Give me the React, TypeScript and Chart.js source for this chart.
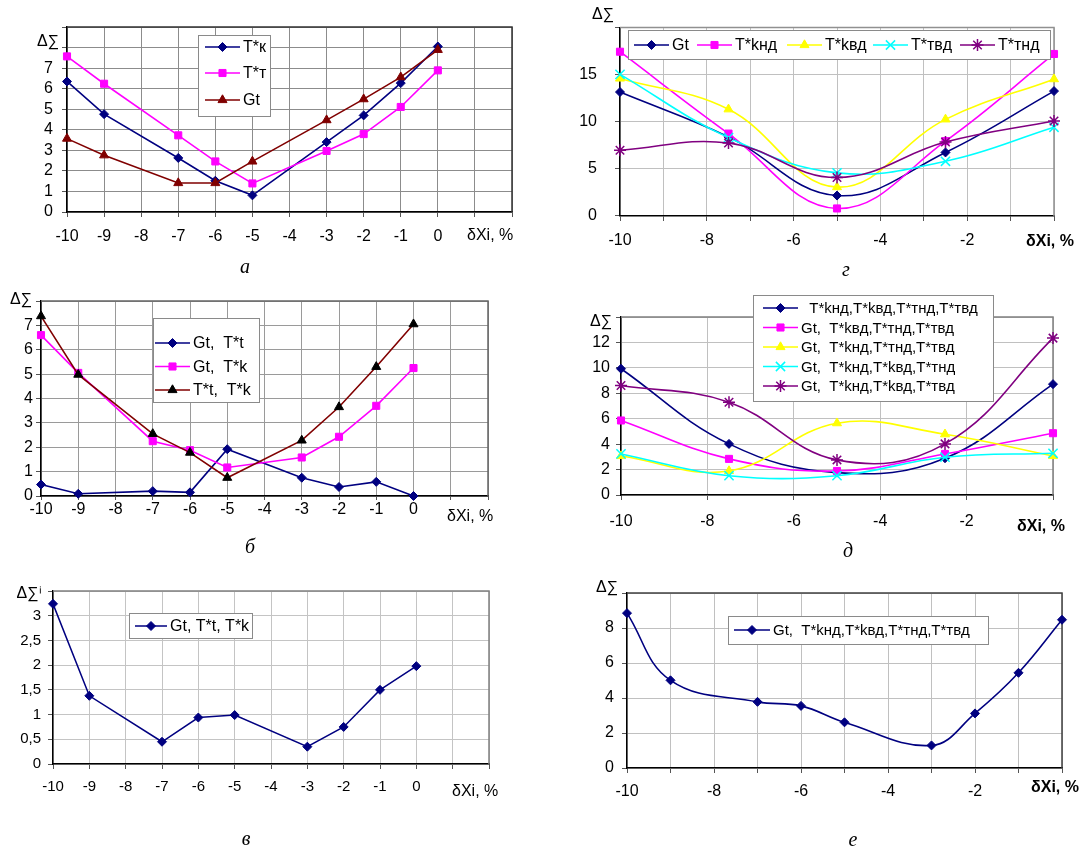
import React, { useEffect, useRef } from 'react';
import { Chart, registerables } from 'chart.js';

Chart.register(...registerables);

const W = 1088;
const H = 847;
const FONT = '"Liberation Sans", Arial, sans-serif';

// ---------- Panel а ----------
const xA = [-10, -9, -7, -6, -5, -3, -2, -1, 0];
const aTk = [6.35, 4.76, 2.63, 1.52, 0.81, 3.4, 4.7, 6.27, 8.05];
const aTt = [7.57, 6.24, 3.73, 2.46, 1.39, 2.97, 3.79, 5.11, 6.89];
const aGt = [3.57, 2.76, 1.41, 1.41, 2.46, 4.47, 5.49, 6.56, 7.89];
const labelsA = ['T*к', 'T*т', 'Gt'];

// ---------- Panel б ----------
const xB = [-10, -9, -7, -6, -5, -3, -2, -1, 0];
const bGtTt = [0.47, 0.09, 0.2, 0.15, 1.92, 0.75, 0.37, 0.58, 0.0];
const bGtTk = [6.6, 5.05, 2.25, 1.88, 1.17, 1.58, 2.43, 3.7, 5.25];
const bTtTk = [7.38, 4.98, 2.55, 1.78, 0.75, 2.28, 3.65, 5.3, 7.05];
const labelsB = ['Gt,  T*t', 'Gt,  T*k', 'T*t,  T*k'];

// ---------- Panel в ----------
const xV = [-10, -9, -7, -6, -5, -3, -2, -1, 0];
const vVals = [3.24, 1.38, 0.45, 0.94, 0.99, 0.35, 0.75, 1.5, 1.98];
const labelsV = ['Gt, T*t, T*k'];

// ---------- Panel г ----------
const xG = [-10, -7.5, -5, -2.5, 0];
const gGt = [13.16, 8.4, 2.17, 6.75, 13.26];
const gTknd = [17.44, 8.75, 0.8, 7.95, 17.2];
const gTkvd = [14.6, 11.33, 3.07, 10.26, 14.53];
const gTtvd = [15.03, 8.32, 4.58, 5.81, 9.42];
const gTtnd = [6.98, 7.75, 4.08, 7.85, 10.09];
const labelsG = ['Gt', 'T*kнд', 'T*kвд', 'T*твд', 'T*тнд'];

// ---------- Panel д ----------
const xD = [-10, -7.5, -5, -2.5, 0];
const d1 = [9.93, 4.02, 1.76, 2.89, 8.72];
const d2 = [5.86, 2.84, 1.89, 3.23, 4.86];
const d3 = [3.07, 1.89, 5.65, 4.78, 3.07];
const d4 = [3.23, 1.52, 1.52, 2.97, 3.28];
const d5 = [8.61, 7.3, 2.76, 4.02, 12.34];
const labelsD = [
  '  T*kнд,T*kвд,T*тнд,T*твд',
  'Gt,  T*kвд,T*тнд,T*твд',
  'Gt,  T*kнд,T*тнд,T*твд',
  'Gt,  T*kнд,T*kвд,T*тнд',
  'Gt,  T*kнд,T*kвд,T*твд',
];

// ---------- Panel е ----------
const xE = [-10, -9, -7, -6, -5, -3, -2, -1, 0];
const eVals = [8.85, 5.01, 3.78, 3.55, 2.61, 1.29, 3.12, 5.44, 8.47];
const labelsE = ['Gt,  T*kнд,T*kвд,T*тнд,T*твд'];

const NAVY = '#000080';
const MAGENTA = '#ff00ff';
const MAROON = '#800000';
const BLACK = '#000000';
const YELLOW = '#ffff00';
const CYAN = '#00ffff';
const PURPLE = '#800080';

type Series = { label: string; ys: number[]; color: string; mColor?: string; style: string; r: number };
type Panel = {
  xs: number[];
  series: Series[];
  plot: [number, number, number, number];
  xMin: number; xMax: number; xStep: number; xLabel: (v: number) => string;
  yMin: number; yMax: number; yStep: number; yLabel: (v: number) => string;
  tension: number; tickFont: number; lineW: number;
  xPad: number; yPad: number; tickLen: number;
  grid: string; frame: string;
  legend: { box: number[]; xs: number[]; ys: number[]; lineLen: number; font: number };
  yTitle: { text: string; x: number; y: number };
  xTitle: { x: number; y: number; bold: boolean };
  caption: { text: string; x: number; y: number };
};

const intLabelLE0 = (v: number) => (v <= 0 ? String(v) : '');
const evenNeg = (v: number) => (v < 0 && Math.abs(v % 2) < 1e-9 ? String(v) : '');

const panels: Panel[] = [
  {
    xs: xA,
    series: [
      { label: labelsA[0], ys: aTk, color: NAVY, style: 'rectRot', r: 4.5 },
      { label: labelsA[1], ys: aTt, color: MAGENTA, style: 'rect', r: 5 },
      { label: labelsA[2], ys: aGt, color: MAROON, style: 'triangle', r: 5.2 },
    ],
    plot: [67, 27, 512, 212],
    xMin: -10, xMax: 2, xStep: 1, xLabel: intLabelLE0,
    yMin: 0, yMax: 9, yStep: 1, yLabel: (v) => (v <= 7 ? String(v) : ''),
    tension: 0, tickFont: 16, lineW: 1.6,
    xPad: 10, yPad: 9, tickLen: 5,
    grid: '#8c8c8c', frame: '#333333',
    legend: { box: [198, 35, 270, 116], xs: [205, 205, 205], ys: [47, 73, 100], lineLen: 35, font: 16 },
    yTitle: { text: 'Δ∑', x: 48, y: 42 },
    xTitle: { x: 467, y: 236, bold: false },
    caption: { text: 'а', x: 245, y: 268 },
  },
  {
    xs: xB,
    series: [
      { label: labelsB[0], ys: bGtTt, color: NAVY, style: 'rectRot', r: 4.5 },
      { label: labelsB[1], ys: bGtTk, color: MAGENTA, style: 'rect', r: 5 },
      { label: labelsB[2], ys: bTtTk, color: MAROON, mColor: BLACK, style: 'triangle', r: 5.2 },
    ],
    plot: [41, 301, 488, 496],
    xMin: -10, xMax: 2, xStep: 1, xLabel: intLabelLE0,
    yMin: 0, yMax: 8, yStep: 1, yLabel: (v) => (v <= 7 ? String(v) : ''),
    tension: 0, tickFont: 16, lineW: 1.6,
    xPad: 0, yPad: 3, tickLen: 4,
    grid: '#9a9a9a', frame: '#666666',
    legend: { box: [153, 318, 259, 402], xs: [155, 155, 155], ys: [343, 366.5, 390], lineLen: 35, font: 16 },
    yTitle: { text: 'Δ∑', x: 21, y: 300 },
    xTitle: { x: 447, y: 517, bold: false },
    caption: { text: 'б', x: 250, y: 548 },
  },
  {
    xs: xV,
    series: [{ label: labelsV[0], ys: vVals, color: NAVY, style: 'rectRot', r: 4.5 }],
    plot: [53, 591, 489, 764],
    xMin: -10, xMax: 2, xStep: 1, xLabel: intLabelLE0,
    yMin: 0, yMax: 3.5, yStep: 0.5, yLabel: (v) => (v <= 3.01 ? String(v).replace('.', ',') : ''),
    tension: 0, tickFont: 15, lineW: 1.5,
    xPad: 9, yPad: 7, tickLen: 5,
    grid: '#c4c4c4', frame: '#808080',
    legend: { box: [129, 613, 252, 638], xs: [135], ys: [626], lineLen: 32, font: 16 },
    yTitle: { text: 'Δ∑ⁱ', x: 29, y: 594 },
    xTitle: { x: 452, y: 792, bold: false },
    caption: { text: 'в', x: 246, y: 840 },
  },
  {
    xs: xG,
    series: [
      { label: labelsG[0], ys: gGt, color: NAVY, style: 'rectRot', r: 4.5 },
      { label: labelsG[1], ys: gTknd, color: MAGENTA, style: 'rect', r: 5 },
      { label: labelsG[2], ys: gTkvd, color: YELLOW, style: 'triangle', r: 5.2 },
      { label: labelsG[3], ys: gTtvd, color: CYAN, style: 'crossRot', r: 6.5 },
      { label: labelsG[4], ys: gTtnd, color: PURPLE, style: 'star', r: 6 },
    ],
    plot: [620, 18, 1054, 216],
    xMin: -10, xMax: 0, xStep: 1, xLabel: evenNeg,
    yMin: 0, yMax: 20, yStep: 5, yLabel: (v) => (v <= 15 ? String(v) : ''),
    tension: 0.4, tickFont: 16, lineW: 1.6,
    xPad: 10, yPad: 18, tickLen: 5,
    grid: '#c0c0c0', frame: '#909090',
    legend: { box: [628, 30, 1050, 59], xs: [634, 697, 787, 873, 960], ys: [45, 45, 45, 45, 45], lineLen: 35, font: 16 },
    yTitle: { text: 'Δ∑', x: 603, y: 15 },
    xTitle: { x: 1026, y: 242, bold: true },
    caption: { text: 'г', x: 846, y: 271 },
  },
  {
    xs: xD,
    series: [
      { label: labelsD[0], ys: d1, color: NAVY, style: 'rectRot', r: 4.5 },
      { label: labelsD[1], ys: d2, color: MAGENTA, style: 'rect', r: 5 },
      { label: labelsD[2], ys: d3, color: YELLOW, style: 'triangle', r: 5.2 },
      { label: labelsD[3], ys: d4, color: CYAN, style: 'crossRot', r: 6.5 },
      { label: labelsD[4], ys: d5, color: PURPLE, style: 'star', r: 6 },
    ],
    plot: [621, 317, 1053, 495],
    xMin: -10, xMax: 0, xStep: 2, xLabel: (v) => (v < 0 ? String(v) : ''),
    yMin: 0, yMax: 14, yStep: 2, yLabel: (v) => (v <= 12 ? String(v) : ''),
    tension: 0.4, tickFont: 16, lineW: 1.6,
    xPad: 12, yPad: 6, tickLen: 5,
    grid: '#c0c0c0', frame: '#808080',
    legend: { box: [753, 295, 993, 401], xs: [763, 763, 763, 763, 763], ys: [308, 327.5, 347, 366.5, 386], lineLen: 35, font: 15 },
    yTitle: { text: 'Δ∑', x: 601, y: 322 },
    xTitle: { x: 1017, y: 527, bold: true },
    caption: { text: 'д', x: 848, y: 552 },
  },
  {
    xs: xE,
    series: [{ label: labelsE[0], ys: eVals, color: NAVY, style: 'rectRot', r: 4.5 }],
    plot: [627, 593, 1062, 768],
    xMin: -10, xMax: 0, xStep: 1, xLabel: evenNeg,
    yMin: 0, yMax: 10, yStep: 2, yLabel: (v) => (v <= 8 ? String(v) : ''),
    tension: 0.4, tickFont: 16, lineW: 1.6,
    xPad: 9, yPad: 8, tickLen: 5,
    grid: '#c0c0c0', frame: '#404040',
    legend: { box: [728, 616, 988, 644], xs: [734], ys: [630], lineLen: 36, font: 15 },
    yTitle: { text: 'Δ∑', x: 607, y: 588 },
    xTitle: { x: 1031, y: 788, bold: true },
    caption: { text: 'е', x: 853, y: 841 },
  },
];

function drawMarker(ctx: CanvasRenderingContext2D, style: string, x: number, y: number, r: number, color: string) {
  ctx.save();
  ctx.fillStyle = color;
  ctx.strokeStyle = color;
  ctx.lineWidth = 1;
  ctx.beginPath();
  if (style === 'rectRot') {
    ctx.moveTo(x - r, y);
    ctx.lineTo(x, y - r);
    ctx.lineTo(x + r, y);
    ctx.lineTo(x, y + r);
    ctx.closePath();
    ctx.fill();
    ctx.stroke();
  } else if (style === 'rect') {
    const s = r * Math.SQRT1_2;
    ctx.rect(x - s, y - s, 2 * s, 2 * s);
    ctx.fill();
    ctx.stroke();
  } else if (style === 'triangle') {
    ctx.moveTo(x, y - r);
    ctx.lineTo(x + 0.866 * r, y + 0.5 * r);
    ctx.lineTo(x - 0.866 * r, y + 0.5 * r);
    ctx.closePath();
    ctx.fill();
    ctx.stroke();
  } else if (style === 'crossRot' || style === 'star') {
    ctx.lineWidth = 1.5;
    const o = r * Math.SQRT1_2;
    ctx.moveTo(x - o, y - o);
    ctx.lineTo(x + o, y + o);
    ctx.moveTo(x - o, y + o);
    ctx.lineTo(x + o, y - o);
    if (style === 'star') {
      ctx.moveTo(x, y - r);
      ctx.lineTo(x, y + r);
      ctx.moveTo(x - r, y);
      ctx.lineTo(x + r, y);
    }
    ctx.stroke();
  }
  ctx.restore();
}

function decoPlugin(p: Panel) {
  return {
    id: 'deco',
    beforeDatasetsDraw(chart: any) {
      const { ctx, chartArea: ca } = chart;
      ctx.save();
      ctx.strokeStyle = p.frame;
      ctx.lineWidth = 1.5;
      ctx.beginPath();
      ctx.moveTo(ca.left, ca.top);
      ctx.lineTo(ca.right, ca.top);
      ctx.lineTo(ca.right, ca.bottom);
      ctx.stroke();
      ctx.restore();
    },
    afterDraw(chart: any) {
      const ctx: CanvasRenderingContext2D = chart.ctx;
      ctx.save();
      // legend
      const lg = p.legend;
      const [bl, bt, br, bb] = lg.box;
      ctx.fillStyle = '#ffffff';
      ctx.fillRect(bl, bt, br - bl, bb - bt);
      ctx.strokeStyle = '#8a8a8a';
      ctx.lineWidth = 1;
      ctx.strokeRect(bl + 0.5, bt + 0.5, br - bl, bb - bt);
      const ds = chart.data.datasets;
      ds.forEach((d: any, i: number) => {
        const s = p.series[i];
        const x0 = lg.xs[i];
        const y0 = lg.ys[i];
        ctx.strokeStyle = s.color;
        ctx.lineWidth = p.lineW;
        ctx.beginPath();
        ctx.moveTo(x0, y0);
        ctx.lineTo(x0 + lg.lineLen, y0);
        ctx.stroke();
        drawMarker(ctx, s.style, x0 + lg.lineLen / 2, y0, s.r, s.mColor || s.color);
        ctx.fillStyle = '#000';
        ctx.font = `${lg.font}px ${FONT}`;
        ctx.textAlign = 'left';
        ctx.textBaseline = 'middle';
        ctx.fillText(d.label, x0 + lg.lineLen + 3, y0 + 1);
      });
      // y title
      ctx.fillStyle = '#000';
      ctx.font = `16px ${FONT}`;
      ctx.textAlign = 'center';
      ctx.textBaseline = 'middle';
      ctx.fillText(p.yTitle.text, p.yTitle.x, p.yTitle.y);
      // x title
      ctx.font = `${p.xTitle.bold ? 'bold ' : ''}16px ${FONT}`;
      ctx.textAlign = 'left';
      ctx.fillText('δXi, %', p.xTitle.x, p.xTitle.y);
      // caption
      ctx.font = `italic 20px "Liberation Serif", "DejaVu Serif", serif`;
      ctx.textAlign = 'center';
      ctx.fillText(p.caption.text, p.caption.x, p.caption.y);
      ctx.restore();
    },
  };
}

function buildConfig(p: Panel): any {
  const YW = 60;
  const XH = 50;
  const [l, t, r, b] = p.plot;
  const n = p.series.length;
  return {
    type: 'line',
    data: {
      datasets: p.series.map((s, i) => ({
        label: s.label,
        data: p.xs.map((x, j) => ({ x, y: s.ys[j] })),
        borderColor: s.color,
        backgroundColor: s.color,
        borderWidth: p.lineW,
        pointStyle: s.style,
        pointRadius: s.r,
        pointBorderWidth: s.style === 'crossRot' || s.style === 'star' ? 1.5 : 1,
        pointBackgroundColor: s.mColor || s.color,
        pointBorderColor: s.mColor || s.color,
        tension: p.tension,
        order: n - i,
        clip: 30,
        fill: false,
      })),
    },
    options: {
      responsive: false,
      animation: false,
      events: [],
      layout: { padding: { left: l - YW, top: t, right: W - r, bottom: H - b - XH } },
      plugins: { legend: { display: false }, tooltip: { enabled: false } },
      scales: {
        x: {
          type: 'linear',
          min: p.xMin,
          max: p.xMax,
          afterFit: (s: any) => { s.height = XH; },
          ticks: {
            stepSize: p.xStep,
            autoSkip: false,
            maxRotation: 0,
            minRotation: 0,
            padding: p.xPad,
            color: '#000',
            font: { family: FONT, size: p.tickFont },
            callback: (v: any) => p.xLabel(Number(v)),
          },
          grid: { color: p.grid, lineWidth: 1, drawTicks: true, tickLength: p.tickLen, tickColor: '#555' },
          border: { display: true, color: '#000', width: 1.5 },
        },
        y: {
          type: 'linear',
          min: p.yMin,
          max: p.yMax,
          afterFit: (s: any) => { s.width = YW; },
          ticks: {
            stepSize: p.yStep,
            autoSkip: false,
            padding: p.yPad,
            color: '#000',
            font: { family: FONT, size: p.tickFont },
            callback: (v: any) => p.yLabel(Number(v)),
          },
          grid: { color: p.grid, lineWidth: 1, drawTicks: true, tickLength: 5, tickColor: '#555' },
          border: { display: true, color: '#000', width: 1.5 },
        },
      },
    },
    plugins: [decoPlugin(p)],
  };
}

function PanelChart({ p }: { p: Panel }) {
  const ref = useRef<HTMLCanvasElement>(null);
  useEffect(() => {
    const chart = new Chart(ref.current as HTMLCanvasElement, buildConfig(p));
    return () => chart.destroy();
  }, [p]);
  return (
    <canvas
      ref={ref}
      width={W}
      height={H}
      style={{ position: 'absolute', left: 0, top: 0, width: W, height: H }}
    />
  );
}

export default function App() {
  return (
    <div
      style={{
        position: 'absolute',
        left: 0,
        top: 0,
        width: W,
        height: H,
        background: '#ffffff',
        overflow: 'hidden',
      }}
    >
      {panels.map((p, i) => (
        <PanelChart key={i} p={p} />
      ))}
    </div>
  );
}
